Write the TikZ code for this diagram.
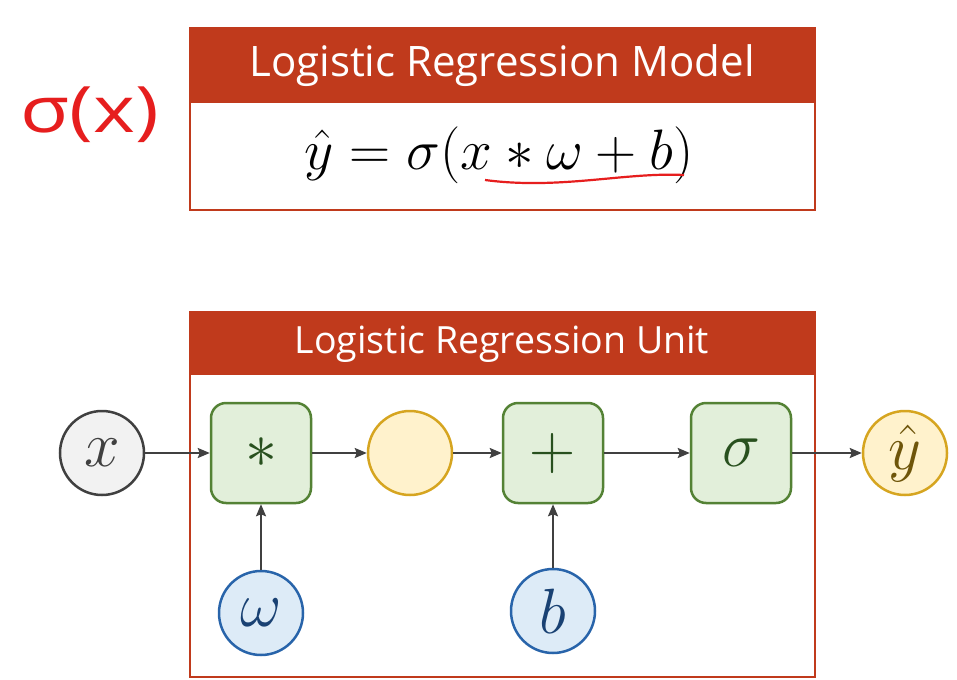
\documentclass[tikz,border=0pt]{standalone}
\usepackage{fix-cm}
\usepackage{fontspec}
\setsansfont{Open Sans}
\usetikzlibrary{positioning,arrows.meta}
\definecolor{hdr}{RGB}{192,58,28}
\definecolor{opfill}{RGB}{226,239,218}
\definecolor{opline}{RGB}{84,130,53}
\definecolor{optext}{RGB}{40,80,30}
\definecolor{actfill}{RGB}{255,242,204}
\definecolor{actline}{RGB}{214,165,32}
\definecolor{acttext}{RGB}{110,85,10}
\definecolor{parfill}{RGB}{221,235,247}
\definecolor{parline}{RGB}{40,100,170}
\definecolor{partext}{RGB}{25,65,115}
\definecolor{infill}{RGB}{242,242,242}
\definecolor{inline}{RGB}{64,64,64}
\definecolor{ink}{RGB}{230,30,30}
\begin{document}
\begin{tikzpicture}
  [x=1pt,y=-1pt,every node/.style={circle,minimum size=84pt,inner sep=0pt,line width=2.5pt,font=\fontsize{64}{72}\selectfont}]
  \tikzstyle{op} = [rectangle,rounded corners=15pt,minimum size=100pt,draw=opline,fill=opfill,text=optext]
  \tikzstyle{inp} = [draw=inline,fill=infill,text=inline]
  \tikzstyle{act} = [draw=actline,fill=actfill,text=acttext]
  \tikzstyle{param} = [draw=parline,fill=parfill,text=partext]
  \tikzstyle{title} = [rectangle,minimum size=0pt,text=white]
  \tikzstyle{flow} = [-{Stealth[length=12pt,width=10pt,inset=2pt]},draw=inline,line width=2pt]
  \useasboundingbox[fill=white] (0,0) rectangle (957,679);

  % model box
  \draw[hdr,line width=2.5pt,fill=white] (190,28) rectangle (815,210);
  \fill[hdr] (190,28) rectangle (815,103);
  \node[title,font=\sffamily\fontsize{42}{48}\selectfont] (model) at (502,66) {Logistic Regression Model};
  \node[rectangle,minimum size=0pt,font=\fontsize{57}{64}\selectfont] (eq) at (499,155) {$\hat{y} = \sigma(x * \omega + b)$};
  \draw[ink,line width=2.2pt] (485,180) .. controls (560,190) and (625,172) .. (684,175);
  \node[rectangle,minimum size=0pt,text=ink,xscale=1.25,font=\sffamily\fontsize{64}{72}\selectfont] (note) at (90,115) {σ(x)};

  % unit box
  \draw[hdr,line width=2.5pt] (190,312) rectangle (815,677);
  \fill[hdr] (190,312) rectangle (815,375);
  \node[title,font=\sffamily\fontsize{37.5}{44}\selectfont] (unit) at (502,344) {Logistic Regression Unit};

  \node[inp] (x) at (102,453) {$x$};
  \node[op] (mul) at (261,453) {$*$};
  \node[act] (z) at (410,453) {};
  \node[op] (add) at (553,453) {$+$};
  \node[op] (sig) at (741,453) {$\sigma$};
  \node[act] (yhat) at (905,453) {$\hat{y}$};
  \node[param] (w) at (261,613) {$\omega$};
  \node[param] (b) at (553,611) {$b$};

\foreach \source /\dest in {x/mul,mul/z,z/add,add/sig,sig/yhat,w/mul,b/add}
   \draw[flow] (\source) -- (\dest);
\end{tikzpicture}
\end{document}
